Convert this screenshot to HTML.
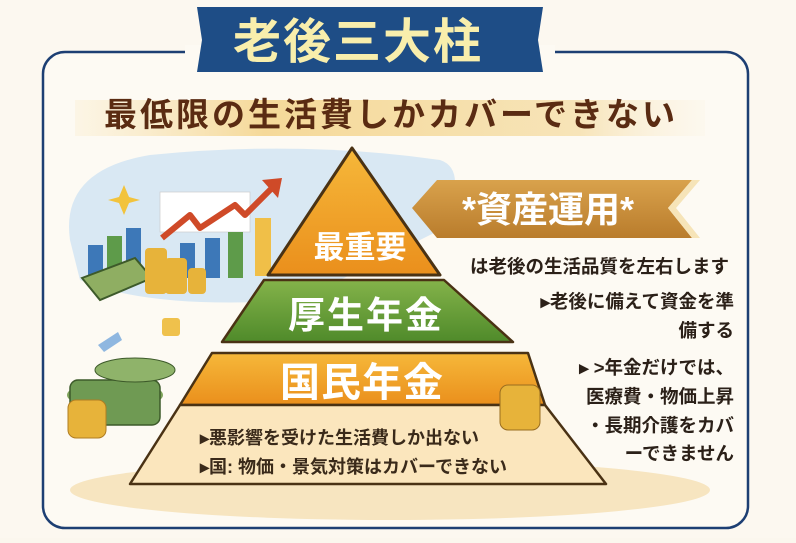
<!DOCTYPE html>
<html><head><meta charset="utf-8"><style>
body{margin:0;width:796px;height:538px;overflow:hidden;background:#fbf7ee;font-family:"Liberation Sans","Noto Sans CJK JP",sans-serif;}
svg text{font-family:"Liberation Sans","Noto Sans CJK JP",sans-serif;font-weight:bold;}
</style></head><body>
<svg width="796" height="538" viewBox="0 0 796 538" xmlns="http://www.w3.org/2000/svg">
<defs>
<linearGradient id="band" x1="0" x2="1" y1="0" y2="0"><stop offset="0" stop-color="#f7e2b0" stop-opacity="0.2"/><stop offset="0.3" stop-color="#f5d999"/><stop offset="0.8" stop-color="#f7e4b8"/><stop offset="1" stop-color="#fbf1dc" stop-opacity="0.2"/></linearGradient>
<linearGradient id="or" x1="0" y1="0" x2="0" y2="1"><stop offset="0" stop-color="#f6b83a"/><stop offset="1" stop-color="#ea8f1c"/></linearGradient>
<linearGradient id="gr" x1="0" y1="0" x2="0" y2="1"><stop offset="0" stop-color="#84b34a"/><stop offset="1" stop-color="#4f8a2a"/></linearGradient>
<linearGradient id="rib" x1="0" y1="0" x2="0" y2="1"><stop offset="0" stop-color="#d9a24c"/><stop offset="1" stop-color="#b97c2c"/></linearGradient>
</defs>
<rect x="0" y="0" width="796" height="538" fill="#fcf8f0"/>
<rect x="43" y="52" width="705" height="476" rx="22" fill="#fdfaf3" stroke="#1d3f73" stroke-width="2.5"/>
<rect x="185" y="45" width="370" height="14" fill="#fdfaf3"/>
<polygon points="197,7 543,7 538,40 543,72 197,72 202,40" fill="#1e4d86"/>
<text x="358" y="58" font-size="48" fill="#f8eeac" text-anchor="middle" letter-spacing="2">老後三大柱</text>
<rect x="75" y="100" width="630" height="36" fill="url(#band)"/>
<text x="391" y="126" font-size="33" fill="#5a2b12" text-anchor="middle" letter-spacing="3">最低限の生活費しかカバーできない</text>
<path d="M70,240 Q60,170 150,155 Q300,140 440,160 Q470,170 440,230 L300,300 Q150,310 80,280 Z" fill="#cfe3f2" opacity="0.8"/>
<rect x="160" y="192" width="90" height="40" fill="#fff" stroke="#ccc" stroke-width="0.7"/>
<rect x="88" y="245" width="15" height="30" fill="#3d78b8"/>
<rect x="107" y="236" width="15" height="39" fill="#5e9b4a"/>
<rect x="126" y="228" width="15" height="47" fill="#3d78b8"/>
<rect x="180" y="243" width="15" height="35" fill="#3d78b8"/>
<rect x="205" y="238" width="15" height="40" fill="#3d78b8"/>
<rect x="228" y="232" width="15" height="46" fill="#5e9b4a"/>
<rect x="255" y="218" width="16" height="58" fill="#f0bf48"/>
<polyline points="162,238 190,215 200,228 235,205 245,215 272,188" fill="none" stroke="#cf4a28" stroke-width="6" stroke-linejoin="round"/>
<polygon points="262,180 282,178 278,198" fill="#cf4a28"/>
<polygon points="124,185 129,197 140,200 129,203 124,215 119,203 108,200 119,197" fill="#f2c33c"/>
<polygon points="82,278 135,258 152,278 100,300" fill="#8fae62" stroke="#3d5a2a" stroke-width="2"/>
<rect x="145" y="248" width="22" height="46" rx="4" fill="#e7b33a"/>
<rect x="165" y="258" width="22" height="36" rx="4" fill="#e7b33a"/>
<rect x="188" y="268" width="18" height="26" rx="4" fill="#e7b33a"/>
<polygon points="98,345 118,332 122,340 104,352" fill="#8fb7e0"/>
<rect x="162" y="318" width="18" height="18" rx="3" fill="#efc14c"/>
<ellipse cx="115" cy="395" rx="48" ry="14" fill="#7ea35a"/>
<rect x="70" y="380" width="90" height="45" rx="8" fill="#6f9a53" stroke="#3d5a2a" stroke-width="1.5"/>
<ellipse cx="135" cy="370" rx="40" ry="12" fill="#8fb36a" stroke="#3d5a2a"/>
<rect x="68" y="400" width="38" height="38" rx="8" fill="#e7b33a" stroke="#b07d22"/>
<ellipse cx="390" cy="490" rx="320" ry="30" fill="#f3dca9" opacity="0.7"/>
<polygon points="352,148 440,275 268,275" fill="url(#or)" stroke="#4a3214" stroke-width="3" stroke-linejoin="round"/>
<polygon points="264,280 444,280 513,342 222,342" fill="url(#gr)" stroke="#4a3214" stroke-width="2.5" stroke-linejoin="round"/>
<polygon points="212,353 528,353 545,405 180,405" fill="url(#or)" stroke="#4a3214" stroke-width="2.5" stroke-linejoin="round"/>
<polygon points="180,405 545,405 606,484 130,484" fill="#fbe6bd" stroke="#4a3214" stroke-width="2.5" stroke-linejoin="round"/>
<rect x="500" y="385" width="40" height="45" rx="8" fill="#e7b33a" stroke="#9a6d1f"/>
<text x="360" y="258" font-size="31" fill="#fff" text-anchor="middle">最重要</text>
<text x="366" y="328" font-size="37" fill="#fff" text-anchor="middle" letter-spacing="2">厚生年金</text>
<text x="362" y="396" font-size="40" fill="#fff" text-anchor="middle" letter-spacing="1">国民年金</text>
<text x="200" y="444" font-size="18" fill="#3a2a1a">&#x25B8;悪影響を受けた生活費しか出ない</text>
<text x="200" y="473" font-size="18" fill="#3a2a1a">&#x25B8;国:  物価・景気対策はカバーできない</text>
<polygon points="412,208 437,180 692,180 668,208 692,238 437,238" fill="url(#rib)"/>
<polygon points="668,208 692,180 700,180 676,208 700,238 692,238" fill="#f6e4b8"/>
<text x="548" y="222" font-size="36" fill="#fff" text-anchor="middle">*資産運用*</text>
<g font-size="18.5" fill="#2b2018">
<text x="470" y="273">は老後の生活品質を左右します</text>
<text x="734" y="308" text-anchor="end">&#x25B8;老後に備えて資金を準</text>
<text x="734" y="337" text-anchor="end">備する</text>
<text x="734" y="374" text-anchor="end">&#x25B8; &gt;年金だけでは、</text>
<text x="734" y="403" text-anchor="end">医療費・物価上昇</text>
<text x="734" y="432" text-anchor="end">・長期介護をカバ</text>
<text x="734" y="460" text-anchor="end">ーできません</text>
</g>
</svg>
</body></html>
